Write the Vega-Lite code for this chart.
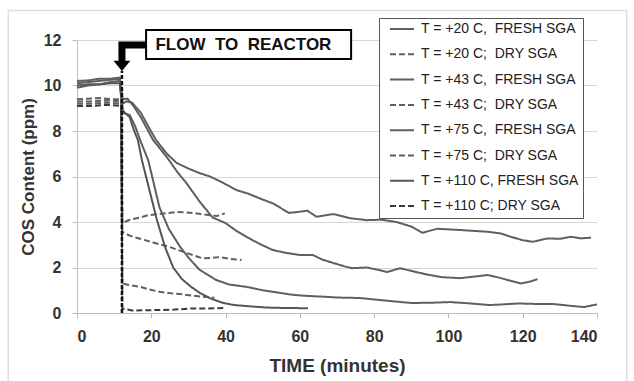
{
  "$schema": "https://vega.github.io/schema/vega-lite/v6.json",
  "autosize": {"type": "none"},
  "padding": {"left": 77, "top": 40, "right": 37, "bottom": 68},
  "width": 520,
  "height": 273,
  "background": "white",
  "config": {
    "view": {"stroke": null},
    "font": "Liberation Sans",
    "axis": {"labelFont": "Liberation Sans", "titleFont": "Liberation Sans", "labelFontWeight": "bold", "titleFontWeight": "bold", "labelColor": "#333", "titleColor": "#333", "domainColor": "#bdbdbd", "tickColor": "#bdbdbd", "gridColor": "#d6d6d6", "tickSize": 5}
  },
  "layer": [
    {
      "data": {"values": [{"x1": -18.5, "x2": 148, "y1": 13.3, "y2": -3.6}]},
      "mark": {"type": "rect", "fill": null, "stroke": "#dddddd", "strokeWidth": 1.5},
      "encoding": {
        "x": {"field": "x1", "type": "quantitative", "scale": {"domain": [0, 140], "nice": false}},
        "x2": {"field": "x2"},
        "y": {"field": "y1", "type": "quantitative", "scale": {"domain": [0, 12], "nice": false}},
        "y2": {"field": "y2"}
      }
    },
    {
      "data": {"values": [
        {"s":"a","t":0,"v":10.1},{"s":"a","t":3,"v":10.15},{"s":"a","t":6,"v":10.2},{"s":"a","t":9,"v":10.25},{"s":"a","t":11.5,"v":10.3},{"s":"a","t":12.3,"v":9.2},{"s":"a","t":13.3,"v":9.3},{"s":"a","t":14.8,"v":9.25},{"s":"a","t":17.2,"v":8.8},{"s":"a","t":19.2,"v":8.2},{"s":"a","t":21.3,"v":7.6},{"s":"a","t":24.2,"v":7.0},{"s":"a","t":26.8,"v":6.6},{"s":"a","t":30,"v":6.35},{"s":"a","t":33,"v":6.15},{"s":"a","t":35.8,"v":6.0},{"s":"a","t":39,"v":5.75},{"s":"a","t":43,"v":5.4},{"s":"a","t":46,"v":5.25},{"s":"a","t":49,"v":5.05},{"s":"a","t":53,"v":4.8},{"s":"a","t":57,"v":4.4},{"s":"a","t":60,"v":4.45},{"s":"a","t":62,"v":4.5},{"s":"a","t":64.5,"v":4.23},{"s":"a","t":69,"v":4.35},{"s":"a","t":73.5,"v":4.17},{"s":"a","t":78,"v":4.08},{"s":"a","t":82,"v":4.1},{"s":"a","t":86,"v":4.0},{"s":"a","t":90,"v":3.8},{"s":"a","t":93,"v":3.53},{"s":"a","t":97,"v":3.7},{"s":"a","t":103,"v":3.65},{"s":"a","t":110.5,"v":3.57},{"s":"a","t":114,"v":3.5},{"s":"a","t":116.8,"v":3.35},{"s":"a","t":120,"v":3.2},{"s":"a","t":122.7,"v":3.13},{"s":"a","t":126.7,"v":3.28},{"s":"a","t":130,"v":3.26},{"s":"a","t":133,"v":3.35},{"s":"a","t":135.7,"v":3.28},{"s":"a","t":138.4,"v":3.31},
        {"s":"b","t":0,"v":9.4},{"s":"b","t":3,"v":9.42},{"s":"b","t":6,"v":9.45},{"s":"b","t":9,"v":9.4},{"s":"b","t":11.9,"v":9.4},{"s":"b","t":12.2,"v":3.95},{"s":"b","t":14.2,"v":4.1},{"s":"b","t":17,"v":4.2},{"s":"b","t":19.2,"v":4.3},{"s":"b","t":22.2,"v":4.35},{"s":"b","t":24.7,"v":4.4},{"s":"b","t":26.9,"v":4.44},{"s":"b","t":29.2,"v":4.42},{"s":"b","t":31.2,"v":4.4},{"s":"b","t":33.2,"v":4.35},{"s":"b","t":35.8,"v":4.3},{"s":"b","t":37.6,"v":4.26},{"s":"b","t":39.8,"v":4.38},
        {"s":"c","t":0,"v":10.2},{"s":"c","t":3,"v":10.22},{"s":"c","t":6,"v":10.3},{"s":"c","t":9,"v":10.3},{"s":"c","t":11.5,"v":10.35},{"s":"c","t":12.3,"v":9.4},{"s":"c","t":13.6,"v":9.42},{"s":"c","t":15.2,"v":9.1},{"s":"c","t":17.2,"v":8.6},{"s":"c","t":20.5,"v":7.6},{"s":"c","t":24.2,"v":6.85},{"s":"c","t":27,"v":6.2},{"s":"c","t":29.5,"v":5.7},{"s":"c","t":33,"v":4.9},{"s":"c","t":36.5,"v":4.2},{"s":"c","t":40,"v":3.95},{"s":"c","t":43,"v":3.6},{"s":"c","t":45.6,"v":3.35},{"s":"c","t":49,"v":3.05},{"s":"c","t":52.7,"v":2.77},{"s":"c","t":56,"v":2.65},{"s":"c","t":60,"v":2.55},{"s":"c","t":63.5,"v":2.55},{"s":"c","t":66,"v":2.35},{"s":"c","t":69,"v":2.2},{"s":"c","t":72,"v":2.05},{"s":"c","t":74,"v":1.97},{"s":"c","t":78,"v":2.0},{"s":"c","t":81,"v":1.9},{"s":"c","t":83.5,"v":1.8},{"s":"c","t":87,"v":1.97},{"s":"c","t":90,"v":1.85},{"s":"c","t":94,"v":1.7},{"s":"c","t":98,"v":1.58},{"s":"c","t":103,"v":1.53},{"s":"c","t":107,"v":1.6},{"s":"c","t":110.5,"v":1.67},{"s":"c","t":113,"v":1.58},{"s":"c","t":116,"v":1.45},{"s":"c","t":119.5,"v":1.3},{"s":"c","t":122,"v":1.38},{"s":"c","t":124,"v":1.49},
        {"s":"d","t":0,"v":9.3},{"s":"d","t":4,"v":9.3},{"s":"d","t":8,"v":9.35},{"s":"d","t":11.9,"v":9.3},{"s":"d","t":12.2,"v":3.56},{"s":"d","t":14.2,"v":3.4},{"s":"d","t":16.2,"v":3.3},{"s":"d","t":20.5,"v":3.1},{"s":"d","t":25,"v":2.9},{"s":"d","t":29.6,"v":2.63},{"s":"d","t":33.9,"v":2.4},{"s":"d","t":36,"v":2.42},{"s":"d","t":38.5,"v":2.46},{"s":"d","t":41,"v":2.38},{"s":"d","t":44.3,"v":2.33},
        {"s":"e","t":0,"v":9.9},{"s":"e","t":3,"v":10.0},{"s":"e","t":6,"v":10.05},{"s":"e","t":9,"v":10.15},{"s":"e","t":11.5,"v":10.2},{"s":"e","t":12.3,"v":8.8},{"s":"e","t":14.2,"v":8.7},{"s":"e","t":15.7,"v":8.2},{"s":"e","t":17,"v":7.6},{"s":"e","t":19.2,"v":6.7},{"s":"e","t":22.2,"v":4.65},{"s":"e","t":24.7,"v":3.7},{"s":"e","t":27.8,"v":2.9},{"s":"e","t":30.2,"v":2.4},{"s":"e","t":33,"v":1.9},{"s":"e","t":37.5,"v":1.45},{"s":"e","t":41,"v":1.25},{"s":"e","t":45.6,"v":1.15},{"s":"e","t":50,"v":1.0},{"s":"e","t":54,"v":0.9},{"s":"e","t":58,"v":0.8},{"s":"e","t":62,"v":0.75},{"s":"e","t":66,"v":0.72},{"s":"e","t":70,"v":0.68},{"s":"e","t":76,"v":0.66},{"s":"e","t":81.6,"v":0.57},{"s":"e","t":86,"v":0.5},{"s":"e","t":90,"v":0.44},{"s":"e","t":95,"v":0.45},{"s":"e","t":100.5,"v":0.48},{"s":"e","t":106,"v":0.42},{"s":"e","t":111,"v":0.35},{"s":"e","t":115,"v":0.38},{"s":"e","t":118.6,"v":0.42},{"s":"e","t":123,"v":0.4},{"s":"e","t":128,"v":0.4},{"s":"e","t":132,"v":0.33},{"s":"e","t":136.5,"v":0.26},{"s":"e","t":140,"v":0.38},
        {"s":"f","t":0,"v":9.2},{"s":"f","t":4,"v":9.2},{"s":"f","t":8,"v":9.25},{"s":"f","t":11.9,"v":9.2},{"s":"f","t":12.2,"v":1.3},{"s":"f","t":14.2,"v":1.22},{"s":"f","t":17,"v":1.15},{"s":"f","t":19.2,"v":1.05},{"s":"f","t":22.2,"v":0.93},{"s":"f","t":25.2,"v":0.87},{"s":"f","t":27.8,"v":0.83},{"s":"f","t":31.2,"v":0.76},{"s":"f","t":35,"v":0.7},{"s":"f","t":37,"v":0.67},
        {"s":"g","t":0,"v":10.0},{"s":"g","t":3,"v":10.05},{"s":"g","t":6,"v":10.05},{"s":"g","t":9,"v":10.1},{"s":"g","t":11.5,"v":10.1},{"s":"g","t":12.3,"v":8.9},{"s":"g","t":14.2,"v":8.6},{"s":"g","t":15.4,"v":8.0},{"s":"g","t":16.4,"v":7.6},{"s":"g","t":17.5,"v":6.7},{"s":"g","t":19.2,"v":5.6},{"s":"g","t":21.5,"v":4.1},{"s":"g","t":23.7,"v":2.9},{"s":"g","t":25.9,"v":2.0},{"s":"g","t":28.2,"v":1.5},{"s":"g","t":30.7,"v":1.15},{"s":"g","t":33.2,"v":0.87},{"s":"g","t":36.2,"v":0.62},{"s":"g","t":39.2,"v":0.45},{"s":"g","t":42.2,"v":0.35},{"s":"g","t":46,"v":0.3},{"s":"g","t":51,"v":0.24},{"s":"g","t":56,"v":0.22},{"s":"g","t":62.2,"v":0.21},
        {"s":"h","t":0,"v":9.1},{"s":"h","t":4,"v":9.1},{"s":"h","t":8,"v":9.15},{"s":"h","t":11.9,"v":9.1},{"s":"h","t":12.2,"v":0.2},{"s":"h","t":15.2,"v":0.1},{"s":"h","t":18.2,"v":0.12},{"s":"h","t":22.2,"v":0.13},{"s":"h","t":26.2,"v":0.15},{"s":"h","t":31.2,"v":0.2},{"s":"h","t":35.2,"v":0.2},{"s":"h","t":39.8,"v":0.22}
      ]},
      "mark": {"type": "line", "strokeWidth": 2},
      "encoding": {
        "x": {"field": "t", "type": "quantitative", "scale": {"domain": [0, 140], "nice": false},
              "axis": {"values": [0, 20, 40, 60, 80, 100, 120, 140], "grid": false, "title": "TIME (minutes)", "labelFontSize": 16, "titleFontSize": 19, "labelPadding": 10, "titlePadding": 12}},
        "y": {"field": "v", "type": "quantitative", "scale": {"domain": [0, 12], "nice": false},
              "axis": {"values": [0, 2, 4, 6, 8, 10, 12], "grid": true, "title": "COS Content (ppm)", "labelFontSize": 16, "titleFontSize": 17, "labelPadding": 11, "titlePadding": 6}},
        "color": {"field": "s", "type": "nominal",
                  "scale": {"domain": ["a","b","c","d","e","f","g","h"], "range": ["#5f5f5f","#5f5f5f","#5f5f5f","#5f5f5f","#5f5f5f","#5f5f5f","#555555","#3a3a3a"]},
                  "legend": {"orient": "none", "legendX": 302, "legendY": -22, "title": null,
                             "labelExpr": "{'a':'T = +20 C,\u00a0 FRESH SGA','b':'T = +20 C;\u00a0 DRY SGA','c':'T = +43 C,\u00a0 FRESH SGA','d':'T = +43 C;\u00a0 DRY SGA','e':'T = +75 C,\u00a0 FRESH SGA','f':'T = +75 C;\u00a0 DRY SGA','g':'T = +110 C, FRESH SGA','h':'T = +110 C; DRY SGA'}[datum.label]",
                             "symbolType": "M-12,0L0,0", "symbolSize": 16, "symbolStrokeWidth": 2,
                             "labelFont": "Liberation Sans", "labelFontSize": 14, "labelColor": "#222", "labelLimit": 180,
                             "padding": 4, "symbolOffset": 24, "labelOffset": 0, "rowPadding": 11.3,
                             "strokeColor": "#555555", "fillColor": "white"}},
        "strokeDash": {"field": "s", "type": "nominal",
                  "scale": {"domain": ["a","b","c","d","e","f","g","h"], "range": [[1,0],[6,3],[1,0],[6,3],[1,0],[6,3],[1,0],[6,3]]},
                  "legend": {"orient": "none", "legendX": 302, "legendY": -22, "title": null,
                             "labelExpr": "{'a':'T = +20 C,\u00a0 FRESH SGA','b':'T = +20 C;\u00a0 DRY SGA','c':'T = +43 C,\u00a0 FRESH SGA','d':'T = +43 C;\u00a0 DRY SGA','e':'T = +75 C,\u00a0 FRESH SGA','f':'T = +75 C;\u00a0 DRY SGA','g':'T = +110 C, FRESH SGA','h':'T = +110 C; DRY SGA'}[datum.label]",
                             "symbolType": "M-12,0L0,0", "symbolSize": 16, "symbolStrokeWidth": 2,
                             "labelFont": "Liberation Sans", "labelFontSize": 14, "labelColor": "#222", "labelLimit": 180,
                             "padding": 4, "symbolOffset": 24, "labelOffset": 0, "rowPadding": 11.3,
                             "strokeColor": "#555555", "fillColor": "white"}},
        "order": {"field": "t", "type": "quantitative"}
      }
    },
    {
      "data": {"values": [{"t": 12.1, "v0": 0, "v1": 10.65}]},
      "mark": {"type": "rule", "color": "#111111", "strokeWidth": 2.5, "strokeDash": [4, 2]},
      "encoding": {
        "x": {"field": "t", "type": "quantitative"},
        "y": {"field": "v0", "type": "quantitative"},
        "y2": {"field": "v1"}
      }
    },
    {
      "data": {"values": [{"t": 18.6, "v": 11.78, "o": 1}, {"t": 12.1, "v": 11.78, "o": 2}, {"t": 12.1, "v": 11.0, "o": 3}]},
      "mark": {"type": "line", "color": "#000000", "strokeWidth": 7, "strokeCap": "butt", "strokeJoin": "miter"},
      "encoding": {
        "x": {"field": "t", "type": "quantitative"},
        "y": {"field": "v", "type": "quantitative"},
        "order": {"field": "o", "type": "quantitative"}
      }
    },
    {
      "data": {"values": [{"t": 12.1, "v": 10.86}]},
      "mark": {"type": "point", "shape": "M-1,-0.6L1,-0.6L0,0.6Z", "size": 289, "filled": true, "color": "#000000", "opacity": 1},
      "encoding": {
        "x": {"field": "t", "type": "quantitative"},
        "y": {"field": "v", "type": "quantitative"}
      }
    },
    {
      "data": {"values": [{"x1": 18.6, "x2": 73.8, "y1": 12.44, "y2": 11.16}]},
      "mark": {"type": "rect", "fill": "white", "stroke": "#000000", "strokeWidth": 2},
      "encoding": {
        "x": {"field": "x1", "type": "quantitative"},
        "x2": {"field": "x2"},
        "y": {"field": "y1", "type": "quantitative"},
        "y2": {"field": "y2"}
      }
    },
    {
      "data": {"values": [{"t": 44.8, "v": 11.8, "label": "FLOW\u00a0 TO\u00a0 REACTOR"}]},
      "mark": {"type": "text", "font": "Liberation Sans", "fontSize": 17, "fontWeight": "bold", "color": "#111111", "align": "center", "baseline": "middle"},
      "encoding": {
        "x": {"field": "t", "type": "quantitative"},
        "y": {"field": "v", "type": "quantitative"},
        "text": {"field": "label"}
      }
    }
  ]
}
